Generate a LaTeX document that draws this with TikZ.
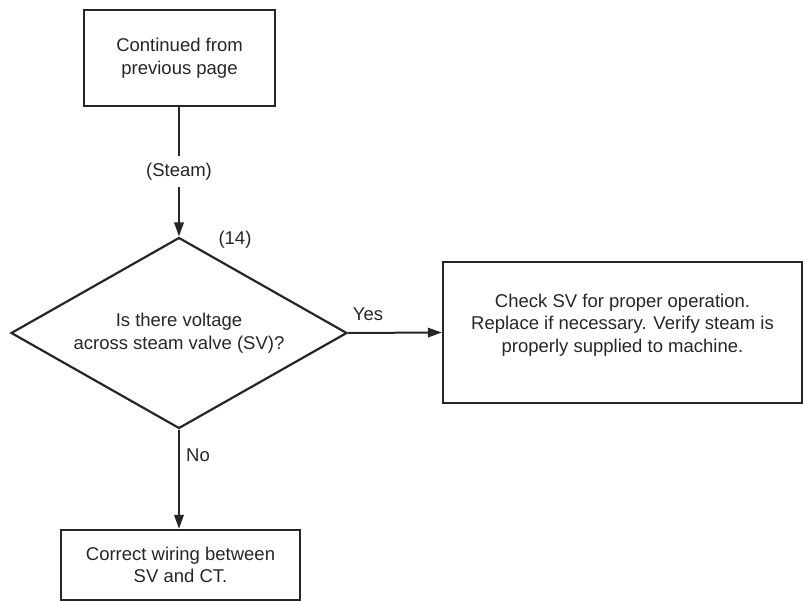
\documentclass[tikz,border=0pt]{standalone}
\usepackage{fontspec}
\setmainfont{Liberation Sans}
\usetikzlibrary{arrows.meta,shapes.geometric}
\begin{document}
\begin{tikzpicture}[x=1pt,y=-1pt,
  txt/.style={font=\fontsize{18.5}{22.5}\selectfont, align=center, text=black!85},
  box/.style={txt, draw=black!85, line width=2.4pt, inner sep=0pt},
  dia/.style={txt, draw=black!85, line width=2.2pt, shape=diamond, aspect=1.76, inner sep=0pt, minimum width=336pt, minimum height=191pt},
  conn/.style={draw=black!85, line width=2pt, -{Triangle[length=14pt,width=9.5pt]}},
  lbl/.style={txt, inner sep=0pt}
]
\useasboundingbox (0,0) rectangle (804,601);
\node[box, minimum width=191pt, minimum height=96pt] (top) at (179.5,58) {Continued from\\previous page};
\node[dia] (d) at (179,333) {Is there voltage\\across steam valve (SV)?};
\node[box, minimum width=359pt, minimum height=141pt] (rb) at (622.5,332.5) {};
\node[lbl] (rbt) at (622.5,325) {Check SV for proper operation.\\Replace if necessary. Verify steam is\\properly supplied to machine.};
\node[box, minimum width=239pt, minimum height=70pt] (bb) at (180.5,565) {Correct wiring between\\SV and CT.};
\draw[conn] (d.north |- top.south) -- node[lbl, fill=white, inner ysep=7pt, inner xsep=3pt] (steam) {(Steam)} (d.north);
\draw[conn] (d.east) -- (rb.west);
\draw[conn] (d.south) -- (d.south |- bb.north);
\node[lbl] (n14) at (235,240) {(14)};
\node[lbl] (yes) at (368,314) {Yes};
\node[lbl] (no) at (198,455) {No};
\end{tikzpicture}
\end{document}
